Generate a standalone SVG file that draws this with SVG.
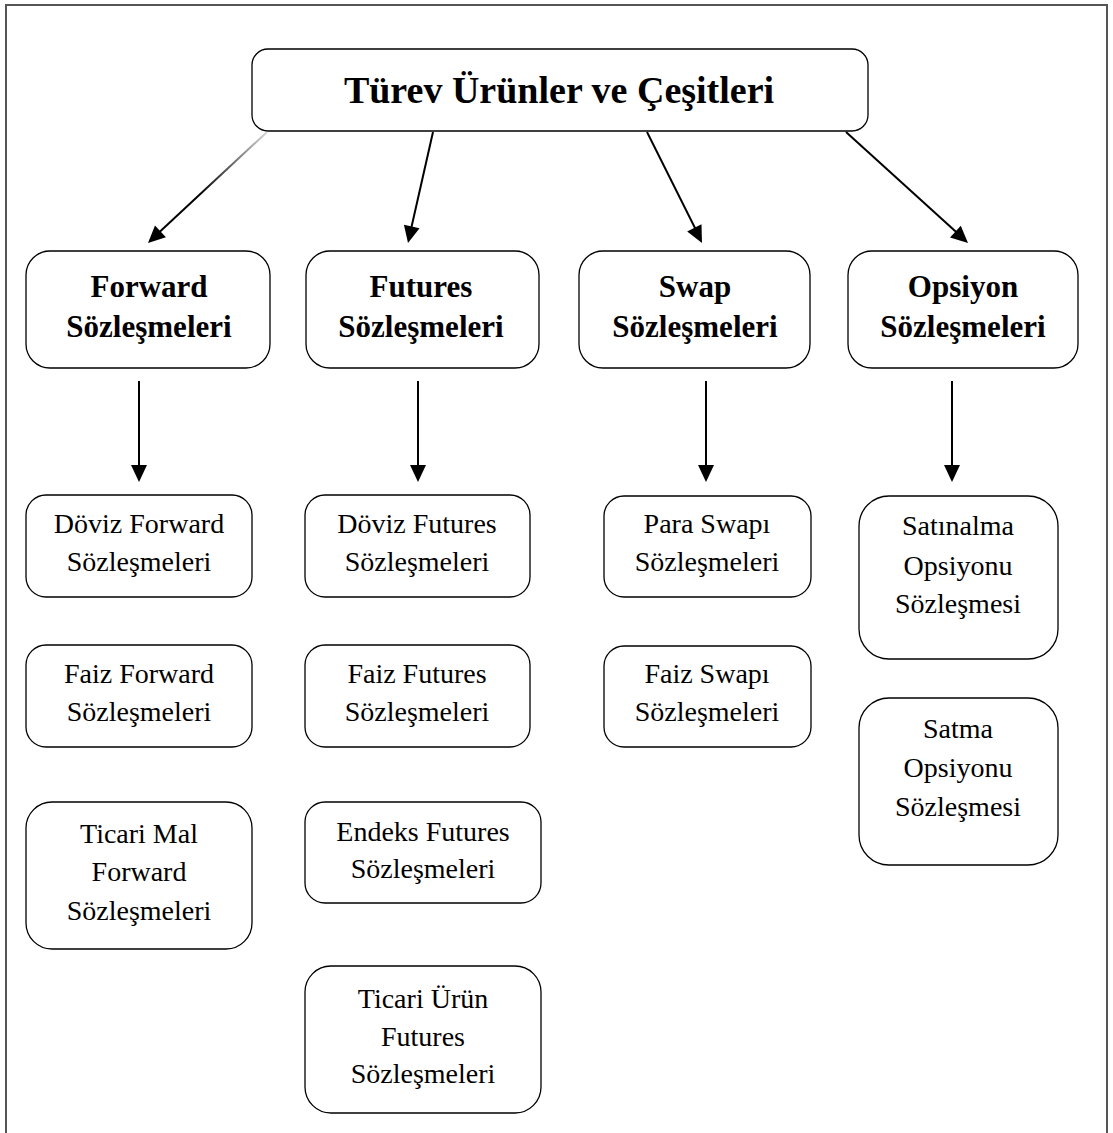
<svg xmlns="http://www.w3.org/2000/svg" width="1113" height="1133" viewBox="0 0 1113 1133">
<defs>
<linearGradient id="fade" gradientUnits="userSpaceOnUse" x1="267" y1="132" x2="200" y2="195">
<stop offset="0" stop-color="#000" stop-opacity="0.15"/>
<stop offset="1" stop-color="#000" stop-opacity="1"/>
</linearGradient>
<path id="ah" d="M0,0 L-17,-8 L-17,8 z" fill="#000"/>
<style>
.box{fill:#fff;stroke:#000;stroke-width:1.3}
.t{font-family:"Liberation Serif","Times New Roman",serif;fill:#000;text-anchor:middle}
.h0{font-size:38px;font-weight:bold}
.h1{font-size:31px;font-weight:bold}
.h2{font-size:28px}
.c{stroke:#000;stroke-width:2;fill:none}
</style>
</defs>
<rect width="1113" height="1133" fill="#fff"/>
<path d="M6,1133 V5 H1107 V1133" fill="none" stroke="#555" stroke-width="2"/>
<g id="connectors">
<line x1="267" y1="132" x2="152" y2="239" stroke="url(#fade)" stroke-width="2"/>
<line class="c" x1="433" y1="132" x2="409" y2="238"/>
<line class="c" x1="647" y1="132" x2="700" y2="238"/>
<line class="c" x1="846" y1="132" x2="965" y2="240"/>
<line class="c" x1="139" y1="381" x2="139" y2="470"/>
<line class="c" x1="418" y1="381" x2="418" y2="470"/>
<line class="c" x1="706" y1="381" x2="706" y2="470"/>
<line class="c" x1="952" y1="381" x2="952" y2="470"/>
<use href="#ah" transform="translate(148,243) rotate(137.1)"/>
<use href="#ah" transform="translate(408,243) rotate(102.7)"/>
<use href="#ah" transform="translate(702,243) rotate(63.2)"/>
<use href="#ah" transform="translate(968,243) rotate(42.2)"/>
<use href="#ah" transform="translate(139,482) rotate(90)"/>
<use href="#ah" transform="translate(418,482) rotate(90)"/>
<use href="#ah" transform="translate(706,482) rotate(90)"/>
<use href="#ah" transform="translate(952,482) rotate(90)"/>
</g>
<g id="title">
<rect class="box" x="252" y="49" width="616" height="82" rx="16"/>
<text class="t h0" x="559" y="103">Türev Ürünler ve Çeşitleri</text>
</g>
<g id="forward">
<rect class="box" x="26" y="251" width="244" height="117" rx="24"/>
<text class="t h1" x="149" y="297">Forward</text>
<text class="t h1" x="149" y="337">Sözleşmeleri</text>
</g>
<g id="futures">
<rect class="box" x="306" y="251" width="233" height="117" rx="24"/>
<text class="t h1" x="421" y="297">Futures</text>
<text class="t h1" x="421" y="337">Sözleşmeleri</text>
</g>
<g id="swap">
<rect class="box" x="579" y="251" width="231" height="117" rx="24"/>
<text class="t h1" x="695" y="297">Swap</text>
<text class="t h1" x="695" y="337">Sözleşmeleri</text>
</g>
<g id="opsiyon">
<rect class="box" x="848" y="251" width="230" height="117" rx="24"/>
<text class="t h1" x="963" y="297">Opsiyon</text>
<text class="t h1" x="963" y="337">Sözleşmeleri</text>
</g>
<g id="doviz-forward">
<rect class="box" x="26" y="495" width="226" height="102" rx="20"/>
<text class="t h2" x="139" y="533">Döviz Forward</text>
<text class="t h2" x="139" y="571">Sözleşmeleri</text>
</g>
<g id="faiz-forward">
<rect class="box" x="26" y="645" width="226" height="102" rx="20"/>
<text class="t h2" x="139" y="683">Faiz Forward</text>
<text class="t h2" x="139" y="721">Sözleşmeleri</text>
</g>
<g id="ticari-mal-forward">
<rect class="box" x="26" y="802" width="226" height="147" rx="26"/>
<text class="t h2" x="139" y="843">Ticari Mal</text>
<text class="t h2" x="139" y="881">Forward</text>
<text class="t h2" x="139" y="920">Sözleşmeleri</text>
</g>
<g id="doviz-futures">
<rect class="box" x="305" y="495" width="225" height="102" rx="20"/>
<text class="t h2" x="417" y="533">Döviz Futures</text>
<text class="t h2" x="417" y="571">Sözleşmeleri</text>
</g>
<g id="faiz-futures">
<rect class="box" x="305" y="645" width="225" height="102" rx="20"/>
<text class="t h2" x="417" y="683">Faiz Futures</text>
<text class="t h2" x="417" y="721">Sözleşmeleri</text>
</g>
<g id="endeks-futures">
<rect class="box" x="305" y="802" width="236" height="101" rx="20"/>
<text class="t h2" x="423" y="841">Endeks Futures</text>
<text class="t h2" x="423" y="878">Sözleşmeleri</text>
</g>
<g id="ticari-urun-futures">
<rect class="box" x="305" y="966" width="236" height="147" rx="26"/>
<text class="t h2" x="423" y="1008">Ticari Ürün</text>
<text class="t h2" x="423" y="1046">Futures</text>
<text class="t h2" x="423" y="1083">Sözleşmeleri</text>
</g>
<g id="para-swapi">
<rect class="box" x="604" y="496" width="207" height="101" rx="20"/>
<text class="t h2" x="707" y="533">Para Swapı</text>
<text class="t h2" x="707" y="571">Sözleşmeleri</text>
</g>
<g id="faiz-swapi">
<rect class="box" x="604" y="646" width="207" height="101" rx="20"/>
<text class="t h2" x="707" y="683">Faiz Swapı</text>
<text class="t h2" x="707" y="721">Sözleşmeleri</text>
</g>
<g id="satinalma-opsiyonu">
<rect class="box" x="859" y="496" width="199" height="163" rx="30"/>
<text class="t h2" x="958" y="535">Satınalma</text>
<text class="t h2" x="958" y="575">Opsiyonu</text>
<text class="t h2" x="958" y="613">Sözleşmesi</text>
</g>
<g id="satma-opsiyonu">
<rect class="box" x="859" y="698" width="199" height="167" rx="30"/>
<text class="t h2" x="958" y="738">Satma</text>
<text class="t h2" x="958" y="777">Opsiyonu</text>
<text class="t h2" x="958" y="816">Sözleşmesi</text>
</g>
</svg>
